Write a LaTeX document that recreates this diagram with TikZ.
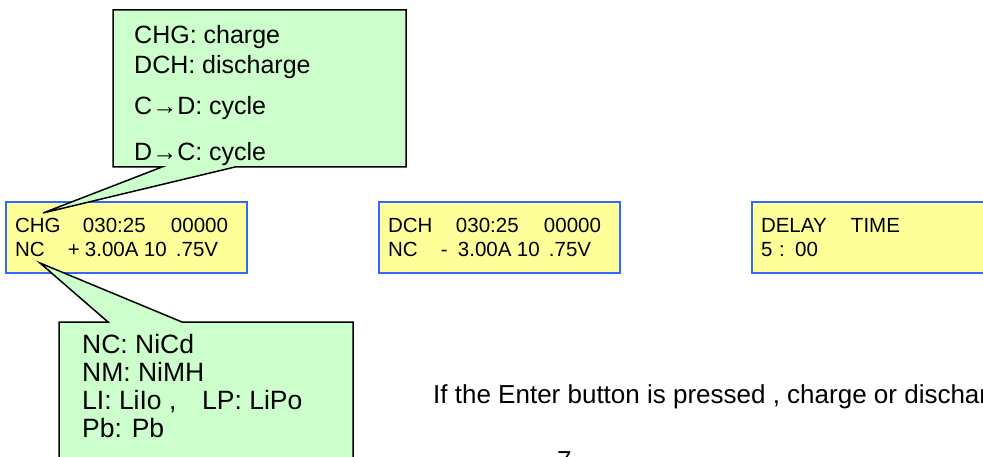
\documentclass[tikz,border=0pt]{standalone}
\usepackage{fontspec}
\setmainfont{Liberation Sans}
\usetikzlibrary{positioning}
\definecolor{lcdyellow}{HTML}{FFFF99}
\definecolor{lcdblue}{HTML}{3366FF}
\definecolor{notegreen}{HTML}{CCFFCC}
\tikzset{
	lcd/.style={draw=lcdblue, line width=2pt, fill=lcdyellow, outer sep=0pt, text width=223pt, minimum height=71pt, inner xsep=9pt, align=left, font=\fontsize{20.5pt}{24pt}\selectfont},
	note/.style={draw=black, line width=1.5pt, fill=notegreen, line join=miter},
	notetext/.style={anchor=base west, align=left, inner sep=0pt}
}

\begin{document}
\begin{tikzpicture}[x=1pt, y=-1pt]
		%%%%% FRAME %%%%%
		\useasboundingbox (0, 0) rectangle (983, 457);
		\clip (0, 0) rectangle (983, 457);
		
		%%%%% DISPLAYS %%%%%
		\node[lcd, anchor=north west] (chg) at (6, 202) {\makebox[68pt][l]{CHG}\makebox[88pt][l]{030:25}00000\\\makebox[53pt][l]{NC}\makebox[17pt][l]{+}\makebox[59pt][l]{3.00A}\makebox[32pt][l]{10}.75V};
		\node[lcd, right=132pt of chg] (dch) {\makebox[68pt][l]{DCH}\makebox[88pt][l]{030:25}00000\\\makebox[53pt][l]{NC}\makebox[17pt][l]{-}\makebox[59pt][l]{3.00A}\makebox[32pt][l]{10}.75V};
		\node[lcd, right=132pt of dch] (delay) {\makebox[90pt][l]{DELAY}TIME\\5 : 00};
		
		%%%%% NOTES %%%%%
		\coordinate (modetip) at (43, 213);
		\draw[note] (113, 10) -- (406, 10) -- (406, 167) -- (235, 167) -- (modetip) -- (162, 167) -- (113, 167) -- cycle;
		\node[notetext, font=\fontsize{25pt}{30pt}\selectfont] (modes) at (134, 161) {CHG: charge\\DCH: discharge\\[11pt]C→D: cycle\\[16pt]D→C: cycle};
		
		\coordinate (celltip) at (40, 263);
		\draw[note] (59, 322) -- (108, 322) -- (celltip) -- (182, 322) -- (353, 322) -- (353, 470) -- (59, 470) -- cycle;
		\node[notetext, font=\fontsize{26.5pt}{27.7pt}\selectfont] (cells) at (82, 437) {NC: NiCd\\NM: NiMH\\\makebox[120pt][l]{LI: LiIo ,}LP: LiPo\\Pb: Pb};
		
		%%%%% TEXT %%%%%
		\node[notetext, font=\fontsize{26pt}{30pt}\selectfont] (hint) at (433, 403) {If the Enter button is pressed , charge or discharge};
		\node[notetext, font=\fontsize{26pt}{30pt}\selectfont] (pagenum) at (557, 469) {7};
	\end{tikzpicture}
\end{document}
